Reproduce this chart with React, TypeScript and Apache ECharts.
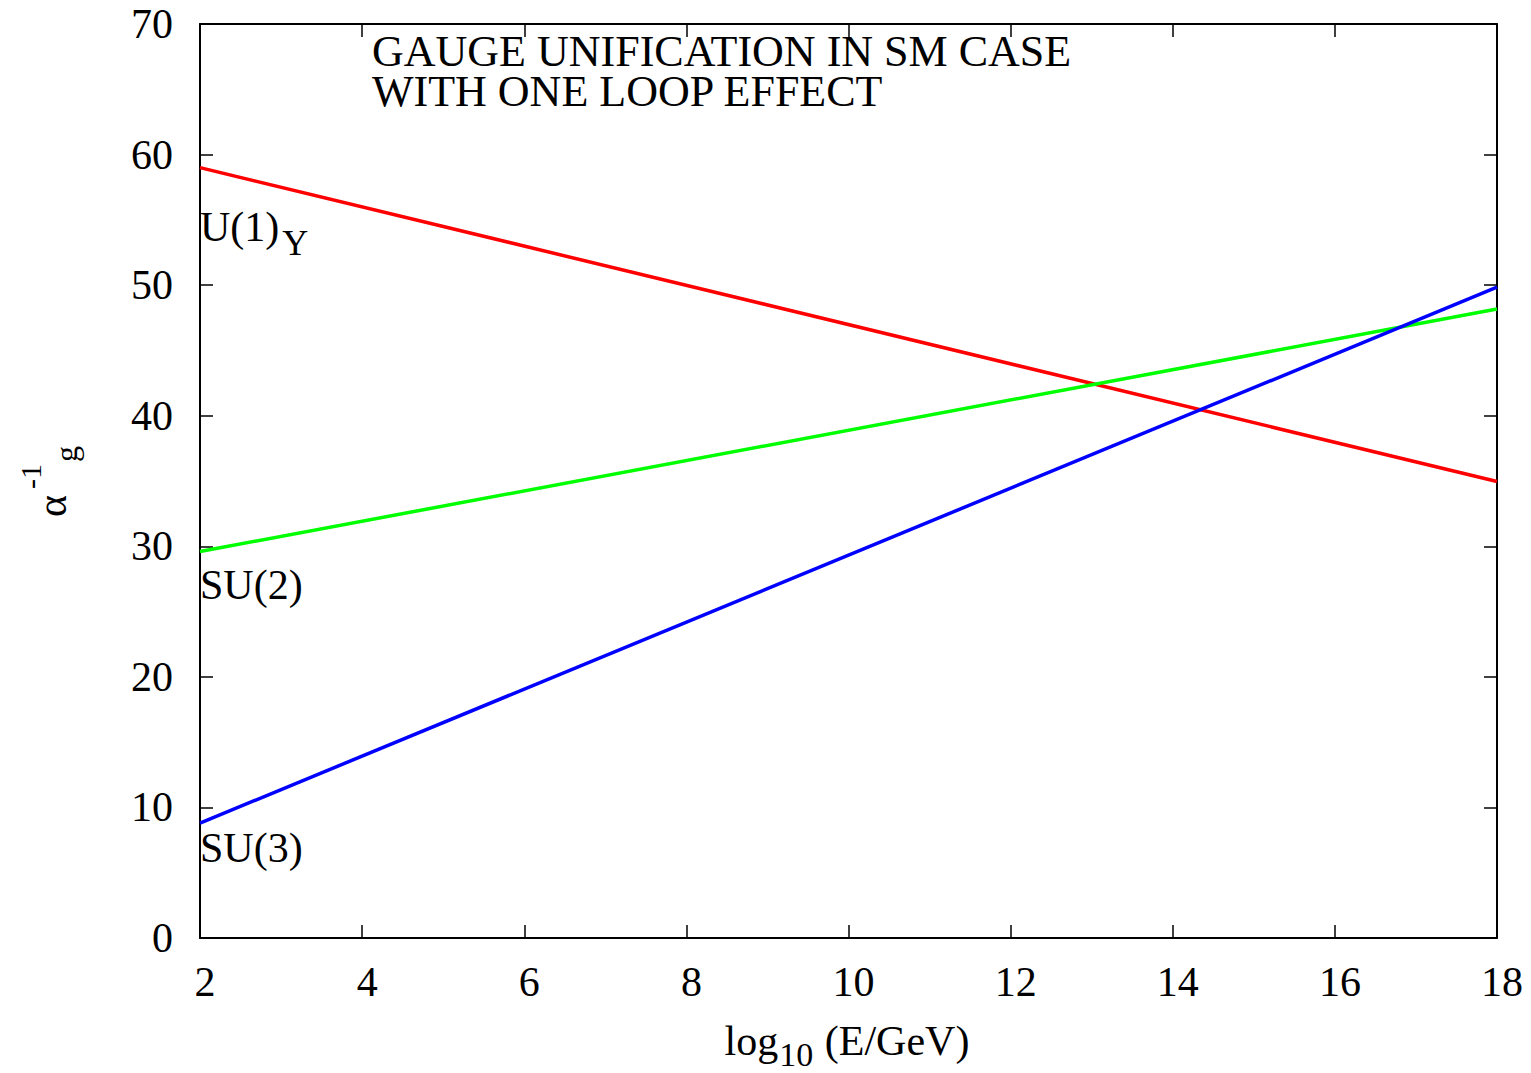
import React, { useEffect, useRef } from 'react';
import * as echarts from 'echarts';

// Data (log10(E/GeV) vs inverse gauge couplings)
const energyLog = [2, 18];
const u1Values = [59.0, 34.96];
const su2Values = [29.6, 48.17];
const su3Values = [8.8, 49.84];

const xMin = 2;
const xMax = 18;
const xStep = 2;
const yMin = 0;
const yMax = 70;
const yStep = 10;

const titleLines = ['GAUGE UNIFICATION IN SM CASE', 'WITH ONE LOOP EFFECT'];

const FONT = '"Liberation Serif", "Times New Roman", Times, serif';

// layout
const GRID_LEFT = 200;
const GRID_TOP = 24;
const GRID_RIGHT = 34;
const GRID_BOTTOM = 135;

function pairs(xs: number[], ys: number[]) {
  return xs.map((x, i) => [x, ys[i]]);
}

let measureCtx: CanvasRenderingContext2D | null = null;
function textWidth(text: string, size: number) {
  if (!measureCtx) {
    const c = document.createElement('canvas');
    measureCtx = c.getContext('2d');
  }
  if (!measureCtx) return text.length * size * 0.5;
  measureCtx.font = `${size}px ${FONT}`;
  return measureCtx.measureText(text).width;
}

function txt(text: string, x: number, y: number, size: number, align = 'left', vAlign = 'middle', lineHeight?: number) {
  const style: any = {
    text,
    fill: '#000',
    font: `${size}px ${FONT}`,
    fontFamily: FONT,
    fontSize: size,
    align,
    textAlign: align,
    verticalAlign: vAlign,
    textVerticalAlign: vAlign,
  };
  if (lineHeight) style.lineHeight = lineHeight;
  return { type: 'text', x, y, silent: true, style };
}

export default function App() {
  const ref = useRef<HTMLDivElement>(null);

  useEffect(() => {
    if (!ref.current) return;
    const chart = echarts.init(ref.current, null, { renderer: 'svg' });

    const axisLine = { show: true, onZero: false, lineStyle: { color: '#000', width: 2 } };
    const axisTick = { show: true, inside: true, length: 13, lineStyle: { color: '#000', width: 1.5 } };

    // x-axis name pieces: log_10 (E/GeV)
    const nameMain = 42;
    const nameSub = 34;
    const wLog = textWidth('log', nameMain);
    const wTen = textWidth('10', nameSub);
    const wRest = textWidth(' (E/GeV)', nameMain);
    const nameTotal = wLog + wTen + wRest;
    const nameStart = 846 - nameTotal / 2;

    // U(1)_Y
    const wU1 = textWidth('U(1)', 42);

    const option: any = {
      animation: false,
      backgroundColor: '#fff',
      grid: { left: GRID_LEFT, top: GRID_TOP, right: GRID_RIGHT, bottom: GRID_BOTTOM, containLabel: false },
      xAxis: [
        {
          type: 'value',
          min: xMin,
          max: xMax,
          interval: xStep,
          position: 'bottom',
          axisLine,
          axisTick,
          splitLine: { show: false },
          axisLabel: {
            show: true,
            showMinLabel: true,
            showMaxLabel: true,
            color: '#000',
            fontFamily: FONT,
            fontSize: 42,
            lineHeight: 42,
            margin: 23,
            padding: [0, 0, 0, 10],
          },
        },
        {
          type: 'value',
          min: xMin,
          max: xMax,
          interval: xStep,
          position: 'top',
          axisLine,
          axisTick,
          splitLine: { show: false },
          axisLabel: { show: false },
        },
      ],
      yAxis: [
        {
          type: 'value',
          min: yMin,
          max: yMax,
          interval: yStep,
          position: 'left',
          axisLine,
          axisTick,
          splitLine: { show: false },
          axisLabel: {
            show: true,
            showMinLabel: true,
            showMaxLabel: true,
            color: '#000',
            fontFamily: FONT,
            fontSize: 42,
            margin: 27,
          },
        },
        {
          type: 'value',
          min: yMin,
          max: yMax,
          interval: yStep,
          position: 'right',
          axisLine,
          axisTick,
          splitLine: { show: false },
          axisLabel: { show: false },
        },
      ],
      series: [
        {
          name: 'U(1)Y',
          type: 'line',
          xAxisIndex: 0,
          yAxisIndex: 0,
          symbol: 'none',
          lineStyle: { color: '#ff0000', width: 3.5 },
          data: pairs(energyLog, u1Values),
        },
        {
          name: 'SU(2)',
          type: 'line',
          xAxisIndex: 0,
          yAxisIndex: 0,
          symbol: 'none',
          lineStyle: { color: '#00ff00', width: 3.5 },
          data: pairs(energyLog, su2Values),
        },
        {
          name: 'SU(3)',
          type: 'line',
          xAxisIndex: 0,
          yAxisIndex: 0,
          symbol: 'none',
          lineStyle: { color: '#0000ff', width: 3.5 },
          data: pairs(energyLog, su3Values),
        },
      ],
      graphic: [
        txt(titleLines.join('\n'), 372, 31, 44, 'left', 'top', 40),
        txt('U(1)', 200, 227, 42),
        txt('Y', 200 + wU1 + 3, 243, 36),
        txt('SU(2)', 200, 585, 42),
        txt('SU(3)', 200, 848, 42),
        // x axis name: log_10 (E/GeV)
        txt('log', nameStart, 1041, nameMain),
        txt('10', nameStart + wLog + 1, 1054, nameSub),
        txt(' (E/GeV)', nameStart + wLog + wTen + 2, 1041, nameMain),
        // y axis name: alpha^-1_g (rotated)
        {
          type: 'group',
          x: 52,
          y: 517,
          rotation: Math.PI / 2,
          silent: true,
          children: [
            txt('α', 0, 0, 42),
            txt('-1', 28, -22, 30),
            txt('g', 55, 14, 32),
          ],
        },
      ],
    };

    chart.setOption(option);
    return () => chart.dispose();
  }, []);

  return (
    <div
      ref={ref}
      style={{ position: 'absolute', left: 0, top: 0, width: 1531, height: 1073, background: '#fff' }}
    />
  );
}
